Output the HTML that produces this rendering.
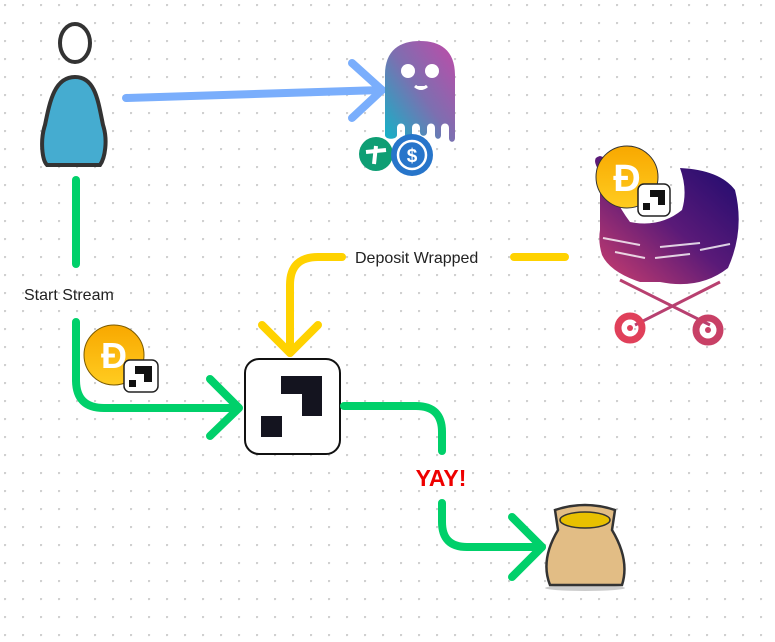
<!DOCTYPE html>
<html><head><meta charset="utf-8"><style>
html,body{margin:0;padding:0;background:#fff;}
svg{display:block;}
text{font-family:"Liberation Sans",sans-serif;}
</style></head><body>
<svg width="775" height="642" viewBox="0 0 775 642" xmlns="http://www.w3.org/2000/svg">
<defs>
<pattern id="dots" width="18" height="18" patternUnits="userSpaceOnUse" x="4" y="4">
<circle cx="1" cy="1" r="1.2" fill="#cfcfcf"/>
</pattern>
<linearGradient id="ghost" x1="0" y1="1" x2="1" y2="0">
<stop offset="0" stop-color="#10b5c8"/><stop offset="0.5" stop-color="#7d6fb0"/><stop offset="1" stop-color="#c04aa8"/>
</linearGradient>
<linearGradient id="boat" x1="0" y1="1" x2="1" y2="0">
<stop offset="0" stop-color="#d2406e"/><stop offset="0.5" stop-color="#5a1a78"/><stop offset="1" stop-color="#1a0a6e"/>
</linearGradient>
<linearGradient id="gold" x1="0" y1="0" x2="0" y2="1">
<stop offset="0" stop-color="#f8a800"/><stop offset="1" stop-color="#ffcc20"/>
</linearGradient>
</defs>
<rect width="775" height="642" fill="url(#dots)"/>

<!-- person -->
<ellipse cx="75" cy="43" rx="15" ry="19" fill="#fff" stroke="#333" stroke-width="4"/>
<path d="M75 77 C55 77 50 100 45 125 C40 140 42 160 47 165 L100 165 C105 158 108 140 103 125 C98 100 95 77 75 77 Z" fill="#45acd0" stroke="#333" stroke-width="4"/>

<!-- blue arrow -->
<g stroke="#7aaefc" stroke-width="8" stroke-linecap="round" fill="none" stroke-linejoin="round">
<path d="M126 98 L382 90"/>
<path d="M352 63 L382 90 L352 118"/>
</g>

<!-- ghost -->
<path d="M385 75 C385 50 400 41 420 41 C440 41 455 50 455 75 L455 138 C455 143 449 143 449 138 L449 128 C449 122 441 122 441 128 L441 135 C441 140 435 140 435 135 L435 128 C435 122 427 122 427 128 L427 132 C427 137 420 137 420 132 L420 128 C420 122 412 122 412 128 L412 135 C412 140 405 140 405 135 L405 128 C405 122 397 122 397 128 L397 135 C397 140 385 140 385 135 Z" fill="url(#ghost)"/>
<circle cx="408" cy="71" r="7" fill="#fff"/><circle cx="432" cy="71" r="7" fill="#fff"/>
<path d="M415 86 Q421 91 427 86" stroke="#fff" stroke-width="3" fill="#fff"/>
<circle cx="376" cy="154" r="17" fill="#0e9e74"/>
<path d="M366 152 L386 150 M376 146 L374 164" stroke="#fff" stroke-width="4"/>
<circle cx="412" cy="155" r="21" fill="#2775ca"/>
<circle cx="412" cy="155" r="14" fill="none" stroke="#fff" stroke-width="2.5"/>
<text x="412" y="162" font-size="19" font-weight="bold" fill="#fff" text-anchor="middle">$</text>

<!-- green left -->
<g stroke="#00d06a" stroke-width="8" stroke-linecap="round" fill="none" stroke-linejoin="round">
<path d="M76 180 L76 264"/>
<path d="M76 322 L76 380 Q76 408 104 408 L238 408"/>
<path d="M210 379 L239 408 L210 436"/>
</g>
<text x="24" y="300" font-size="16" fill="#222">Start Stream</text>

<!-- DAI coin left -->
<circle cx="114" cy="355" r="30" fill="url(#gold)" stroke="#7a5a00" stroke-width="1"/>
<text x="114" y="368" font-size="36" font-weight="bold" fill="#fff" text-anchor="middle">Ð</text>
<rect x="124" y="360" width="34" height="32" rx="6" fill="#fff" stroke="#222" stroke-width="1.5"/>
<path d="M135 366 H152 V382 H144 V374 H135 Z" fill="#111"/><rect x="129" y="380" width="7" height="7" fill="#111"/>

<!-- yellow -->
<g stroke="#ffd200" stroke-width="8" stroke-linecap="round" fill="none" stroke-linejoin="round">
<path d="M565 257 L514 257"/>
<path d="M342 257 L318 257 Q290 257 290 285 L290 353"/>
<path d="M262 325 L290 353 L318 325"/>
</g>
<text x="355" y="263" font-size="16" fill="#222">Deposit Wrapped</text>

<!-- center box -->
<rect x="245" y="359" width="95" height="95" rx="14" fill="#fff" stroke="#111" stroke-width="2"/>
<path d="M281 376 H322 V416 H302 V394 H281 Z" fill="#14141f"/>
<rect x="261" y="416" width="21" height="21" fill="#14141f"/>

<!-- green right -->
<g stroke="#00d06a" stroke-width="8" stroke-linecap="round" fill="none" stroke-linejoin="round">
<path d="M344 406 L416 406 Q442 406 442 432 L442 451"/>
<path d="M442 503 L442 522 Q442 547 467 547 L542 547"/>
<path d="M512 517 L542 547 L512 577"/>
</g>
<text x="441" y="486" font-size="23" font-weight="bold" fill="#ee0000" text-anchor="middle">YAY!</text>

<!-- money bag -->
<ellipse cx="585" cy="588" rx="40" ry="3" fill="#ccc"/>
<path d="M555 510 Q585 500 615 510 L612 530 Q630 560 622 585 L550 585 Q540 560 558 530 Z" fill="#e2bd85" stroke="#333" stroke-width="2.5"/>
<ellipse cx="585" cy="520" rx="25" ry="8" fill="#e8c000" stroke="#333" stroke-width="1.5"/>

<!-- stroller -->
<path d="M600 172 Q590 158 600 156 Q610 158 604 168 Q612 198 630 222 Q660 228 682 210 Q688 190 680 168 Q720 170 735 190 Q745 230 728 268 Q700 290 660 282 L640 282 Q610 272 602 255 Q598 242 600 230 Z" fill="url(#boat)"/>
<g stroke="#fff" stroke-width="2" opacity="0.8"><path d="M603 238 L640 245"/><path d="M660 247 L700 243"/><path d="M615 252 L645 258"/><path d="M655 258 L690 254"/><path d="M700 250 L730 244"/></g>
<g stroke="#b84070" stroke-width="3" fill="none"><path d="M620 280 L710 325 M720 282 L635 325"/></g>
<circle cx="630" cy="328" r="12" fill="none" stroke="#e0405a" stroke-width="7"/><circle cx="630" cy="328" r="3" fill="#e0405a"/>
<circle cx="708" cy="330" r="12" fill="none" stroke="#c84066" stroke-width="7"/><circle cx="708" cy="330" r="3" fill="#c84066"/>
<circle cx="627" cy="177" r="31" fill="url(#gold)" stroke="#333" stroke-width="1"/>
<text x="627" y="191" font-size="38" font-weight="bold" fill="#fff" text-anchor="middle">Ð</text>
<rect x="638" y="184" width="32" height="32" rx="6" fill="#fff" stroke="#222" stroke-width="1.5"/>
<path d="M650 190 H665 V205 H658 V197 H650 Z" fill="#111"/><rect x="643" y="203" width="7" height="7" fill="#111"/>
</svg>
</body></html>
